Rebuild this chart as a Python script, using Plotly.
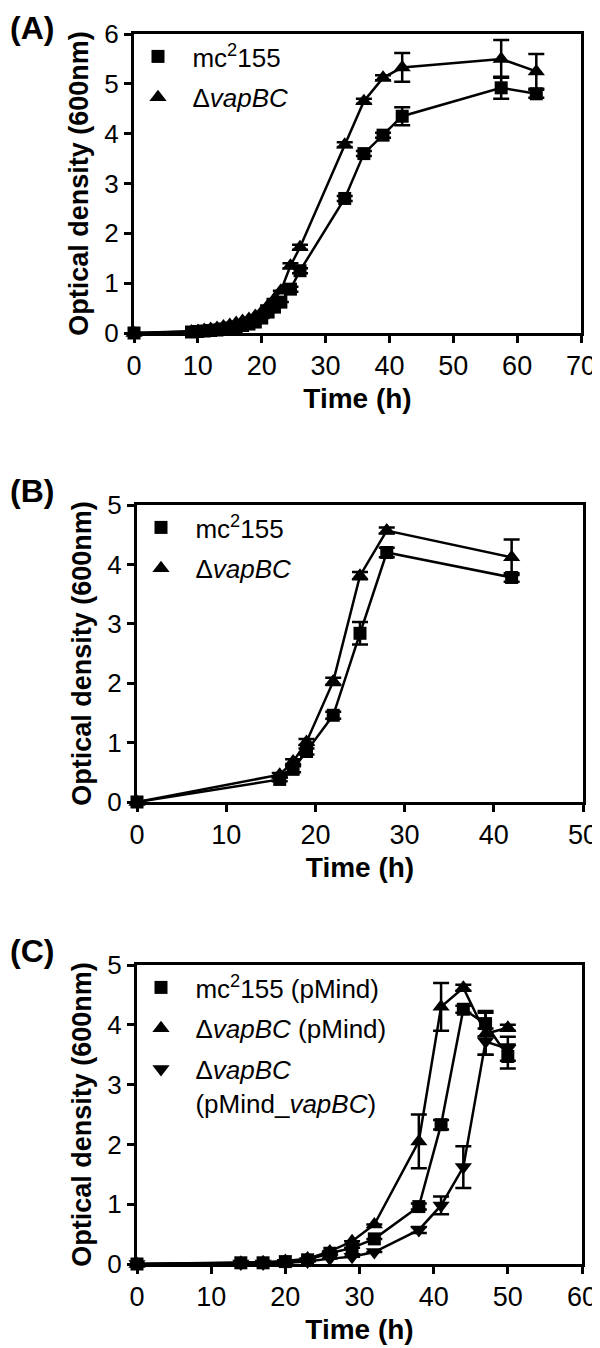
import plotly.graph_objects as go

# the page puts the figure 8px in from the top-left corner
OFF = 8
W, H = 600 - OFF, 1348 - OFF

# panel A
time_a = [0, 9, 10, 11, 12, 13, 14, 15, 16, 17, 18, 19, 20, 21, 22, 23, 24.5, 26, 33, 36, 39, 42, 57.5, 63]
mc_a = [0, 0.02, 0.03, 0.04, 0.05, 0.06, 0.08, 0.1, 0.12, 0.15, 0.18, 0.22, 0.3, 0.42, 0.52, 0.62, 0.88, 1.25, 2.7, 3.6, 3.97, 4.35, 4.92, 4.8]
mc_a_err = [0, 0, 0, 0, 0, 0, 0, 0, 0, 0, 0, 0, 0, 0, 0, 0, 0.05, 0.05, 0.05, 0.05, 0.05, 0.18, 0.22, 0.08]
vap_a = [0, 0.03, 0.04, 0.06, 0.08, 0.1, 0.13, 0.16, 0.2, 0.24, 0.28, 0.34, 0.42, 0.55, 0.68, 0.85, 1.35, 1.72, 3.78, 4.65, 5.12, 5.33, 5.5, 5.25]
vap_a_err = [0, 0, 0, 0, 0, 0, 0, 0, 0, 0, 0, 0, 0, 0, 0, 0, 0.05, 0.05, 0.05, 0.05, 0.05, 0.29, 0.38, 0.35]

# panel B
time_b = [0, 16, 17.5, 19, 22, 25, 28, 42]
mc_b = [0, 0.38, 0.55, 0.85, 1.46, 2.84, 4.2, 3.78]
mc_b_err = [0, 0.03, 0.05, 0.05, 0.06, 0.19, 0.08, 0.07]
vap_b = [0, 0.46, 0.68, 1.01, 2.03, 3.81, 4.57, 4.12]
vap_b_err = [0, 0.03, 0.04, 0.05, 0.06, 0.06, 0.05, 0.3]

# panel C
time_c = [0, 14, 17, 20, 23, 26, 29, 32, 38, 41, 44, 47, 50]
mc_c = [0, 0.02, 0.02, 0.04, 0.07, 0.18, 0.27, 0.42, 0.96, 2.33, 4.26, 4.02, 3.47]
mc_c_err = [0, 0, 0, 0, 0, 0, 0, 0, 0.05, 0.08, 0.06, 0.21, 0.2]
vap_c = [0, 0.02, 0.03, 0.05, 0.09, 0.21, 0.38, 0.66, 2.05, 4.3, 4.62, 3.85, 3.95]
vap_c_err = [0, 0, 0, 0, 0, 0, 0, 0, 0.45, 0.4, 0.05, 0.35, 0.05]
comp_c = [0, 0.01, 0.01, 0.02, 0.04, 0.09, 0.12, 0.2, 0.57, 0.98, 1.62, 3.72, 3.6]
comp_c_err = [0, 0, 0, 0, 0, 0, 0, 0, 0.05, 0.15, 0.35, 0.22, 0.2]

pad = '\u00a0\u00a0'
name_mc = pad + 'mc<sup>2</sup>155'
name_vap = pad + '\u0394<i>vapBC</i>'

panels = [
    # label, x max, y max, px box (left, top, right, bottom), series
    ('(A)', 70, 6, (134, 34, 581, 333), time_a,
     [(name_mc, 'square', mc_a, mc_a_err), (name_vap, 'triangle-up', vap_a, vap_a_err)]),
    ('(B)', 50, 5, (137, 505, 583, 802), time_b,
     [(name_mc, 'square', mc_b, mc_b_err), (name_vap, 'triangle-up', vap_b, vap_b_err)]),
    ('(C)', 60, 5, (137, 965, 582, 1264), time_c,
     [(name_mc + ' (pMind)', 'square', mc_c, mc_c_err),
      (name_vap + ' (pMind)', 'triangle-up', vap_c, vap_c_err),
      (name_vap + '<br>' + pad + '(pMind_<i>vapBC</i>)', 'triangle-down', comp_c, comp_c_err)]),
]

font = 'Arial, Liberation Sans, sans-serif'


def px(x):
    return (x - OFF) / W


def py(y):
    return 1 - (y - OFF) / H


fig = go.Figure()
annotations = []
layout = {}

for i, (label, xmax, ymax, box, times, series) in enumerate(panels):
    n = '' if i == 0 else str(i + 1)
    left, top, right, bottom = box
    leg = 'legend' + n
    for name, sym, vals, errs in series:
        size = 13 if sym == 'square' else 15
        fig.add_trace(go.Scatter(
            x=times, y=vals, mode='lines+markers', xaxis='x' + n, yaxis='y' + n,
            line=dict(color='black', width=2.5),
            marker=dict(symbol=sym, size=size, color='black'),
            error_y=dict(type='data', array=[e if e > 0 else None for e in errs],
                         color='black', thickness=2.5, width=8),
            cliponaxis=False, showlegend=False))
        fig.add_trace(go.Scatter(
            x=[None], y=[None], mode='markers', name=name, legend=leg,
            xaxis='x' + n, yaxis='y' + n, legendgroup=name + n,
            marker=dict(symbol=sym, size=size, color='black')))

    axis_common = dict(showline=True, linecolor='black', linewidth=3, mirror=True,
                       ticks='outside', ticklen=7, tickwidth=3, tickcolor='black',
                       showgrid=False, zeroline=False, automargin=False)
    layout['xaxis' + n] = dict(axis_common, domain=[px(left), px(right)], range=[0, xmax],
                               dtick=10, anchor='y' + n,
                               tickfont=dict(family=font, size=27, color='black'),
                               title=dict(text='Time (h)', standoff=8,
                                          font=dict(family=font, size=28, color='black', weight='bold')))
    layout['yaxis' + n] = dict(axis_common, domain=[py(bottom), py(top)], range=[0, ymax],
                               dtick=1, anchor='x' + n,
                               tickfont=dict(family=font, size=26, color='black'),
                               title=dict(text='Optical density (600nm)', standoff=8,
                                          font=dict(family=font, size=27, color='black', weight='bold')))
    layout[leg] = dict(x=px(left + 4), y=py(top - 1), xanchor='left', yanchor='top',
                       bgcolor='rgba(0,0,0,0)', traceorder='grouped', tracegroupgap=4,
                       valign='top', font=dict(family=font, size=26, color='black'))

    annotations.append(dict(text=label, x=0, y=py(max(OFF, top - 34)), xref='paper', yref='paper',
                            xanchor='left', yanchor='top', showarrow=False,
                            font=dict(family=font, size=32, color='black', weight='bold')))

fig.update_layout(
    width=W, height=H, margin=dict(l=0, r=0, t=0, b=0),
    paper_bgcolor='white', plot_bgcolor='white',
    annotations=annotations, **layout)

fig.write_html("out.html")
